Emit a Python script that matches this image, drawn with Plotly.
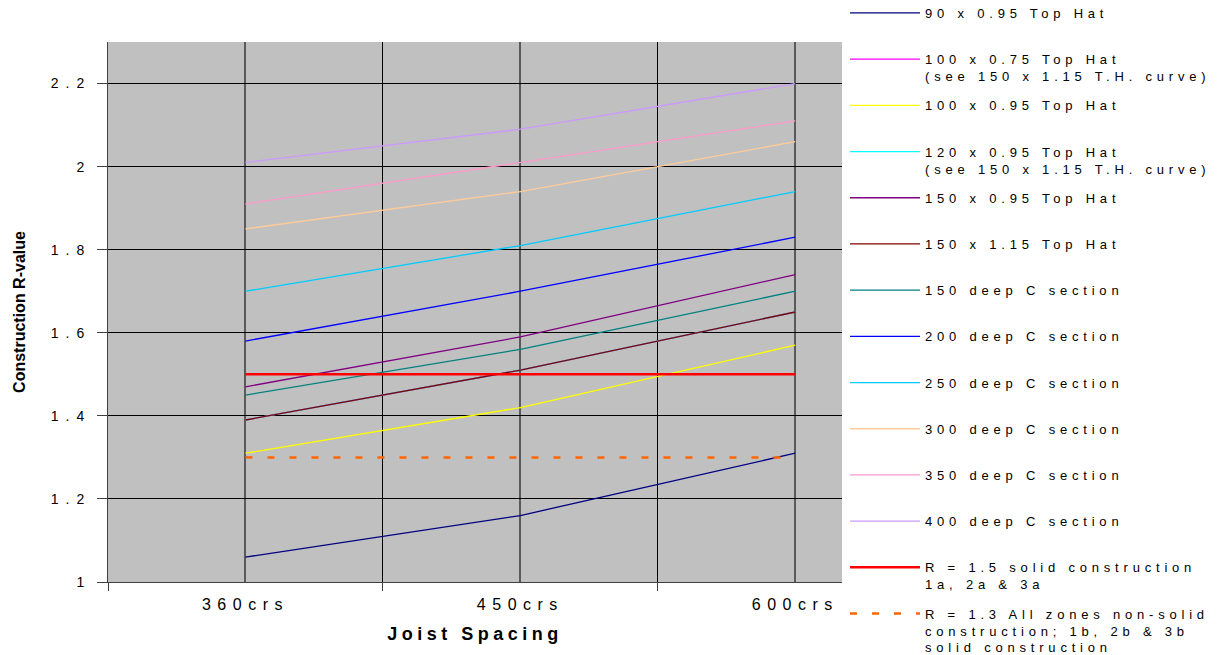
import plotly.graph_objects as go

# ---------------- data ----------------
categories = ["360crs", "450crs", "600crs"]

series_names = [
    "90 x 0.95 Top Hat",
    "100 x 0.75 Top Hat<br>(see 150 x 1.15 T.H. curve)",
    "100 x 0.95 Top Hat",
    "120 x 0.95 Top Hat<br>(see 150 x 1.15 T.H. curve)",
    "150 x 0.95 Top Hat",
    "150 x 1.15 Top Hat",
    "150 deep C section",
    "200 deep C section",
    "250 deep C section",
    "300 deep C section",
    "350 deep C section",
    "400 deep C section",
    "R = 1.5 solid construction<br>1a, 2a & 3a",
    "R = 1.3 All zones non-solid<br>construction; 1b, 2b & 3b<br>solid construction",
]

th_90_095 = [1.06, 1.16, 1.31]
th_100_075 = [1.39, 1.51, 1.65]
th_100_095 = [1.31, 1.42, 1.57]
th_120_095 = [1.39, 1.51, 1.65]
th_150_095 = [1.47, 1.59, 1.74]
th_150_115 = [1.39, 1.51, 1.65]
c_150 = [1.45, 1.56, 1.70]
c_200 = [1.58, 1.70, 1.83]
c_250 = [1.70, 1.81, 1.94]
c_300 = [1.85, 1.94, 2.06]
c_350 = [1.91, 2.01, 2.11]
c_400 = [2.01, 2.09, 2.20]
r_solid = [1.5, 1.5, 1.5]
r_nonsolid = [1.3, 1.3, 1.3]

series_values = [th_90_095, th_100_075, th_100_095, th_120_095, th_150_095,
                 th_150_115, c_150, c_200, c_250, c_300, c_350, c_400,
                 r_solid, r_nonsolid]

# ---------------- styles ----------------
colors = ["#000080", "#FF00FF", "#FFFF00", "#00FFFF", "#800080", "#800000",
          "#008080", "#0000FF", "#00CCFF", "#FFCC99", "#FF99CC", "#CC99FF",
          "#FF0000", "#FF6600"]
widths = [1.3] * 12 + [2.5, 2.5]
dashes = ["solid"] * 13 + ["7px,15px"]

x_idx = list(range(len(categories)))
FONT = "Liberation Sans, Arial, sans-serif"

fig = go.Figure()
for name, vals, col, w, d in zip(series_names, series_values, colors, widths, dashes):
    label = name if "<br>" in name else name + "<br>\u00a0"
    fig.add_trace(go.Scatter(
        x=x_idx, y=vals, mode="lines", name=label, legendgroup=name,
        line=dict(color=col, width=w, dash=d),
    ))

fig.update_layout(
    width=1223, height=655,
    margin=dict(l=108, r=381, t=42, b=73, autoexpand=False),
    paper_bgcolor="white",
    plot_bgcolor="#C0C0C0",
    font=dict(family=FONT, color="black"),
    showlegend=True,
    legend=dict(
        x=1.0041, xanchor="left", y=1.0815, yanchor="top",
        font=dict(family=FONT, size=13, color="black"),
        bgcolor="rgba(255,255,255,0)",
        tracegroupgap=9.4, valign="top", itemwidth=70,
    ),
    xaxis=dict(
        range=[-0.5, 2.17],
        tickmode="array", tickvals=x_idx, ticktext=categories,
        ticks="", tickfont=dict(family=FONT, size=16, color="black"),
        ticklabelstandoff=8,
        showgrid=True, gridcolor="#5a5a5a", gridwidth=2,
        showline=True, linecolor="#404040", linewidth=1,
        zeroline=False, automargin=False,
        minor=dict(tickmode="array", tickvals=[-0.5, 0.5, 1.5],
                   ticks="outside", ticklen=8, tickcolor="#404040",
                   showgrid=True, gridcolor="black", gridwidth=1),
        title=dict(text="<b>Joist Spacing</b>",
                   font=dict(family=FONT, size=18), standoff=15),
    ),
    yaxis=dict(
        range=[1, 2.3], tick0=1, dtick=0.2,
        ticks="outside", ticklen=10, tickcolor="#404040",
        tickfont=dict(family=FONT, size=14, color="black"),
        ticklabelstandoff=3,
        showgrid=True, gridcolor="black", gridwidth=1,
        showline=True, linecolor="#404040", linewidth=1,
        zeroline=False, automargin=False,
        title=dict(text="<b>Construction R-value</b>",
                   font=dict(family=FONT, size=16), standoff=42),
    ),
)

# Page without the default body margin, plus the wide character spacing
# of the original chart's lettering
page_css = """
var st = document.createElement('style');
st.textContent = 'body{margin:0}' +
  '.legendtext{letter-spacing:4.8px}' +
  '.legend .scrollbox{clip-path:none !important}' +
  '.legend .scrollbar{display:none}' +
  '.xtick text{letter-spacing:6.5px}' +
  '.ytick text{letter-spacing:7px}' +
  '.xtitle{letter-spacing:4.5px}';
document.head.appendChild(st);
"""

fig.write_html("out.html", post_script=page_css,
               config={"displayModeBar": False})
